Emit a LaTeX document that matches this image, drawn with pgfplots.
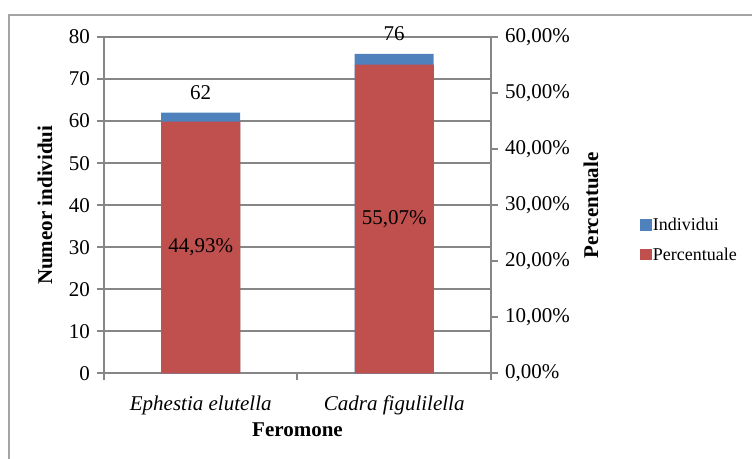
\documentclass[border=0pt]{standalone}
\usepackage{fontspec}
\setmainfont{Liberation Serif}
\usepackage{pgfplots}
\pgfplotsset{compat=1.18}
\definecolor{barblue}{HTML}{4F81BD}
\definecolor{barred}{HTML}{C0504D}
\definecolor{linegray}{HTML}{868686}
\begin{document}
\begin{tikzpicture}
\path[use as bounding box] (0,0) rectangle (376pt,229.5pt);
% chart area frame
\draw[linegray!75, line width=0.8pt] (4.5pt,-1pt) -- (4.5pt,222pt) -- (377pt,222pt);

\pgfplotsset{
  common/.style={
    at={(52pt,42.75pt)}, anchor=south west,
    scale only axis, width=193.5pt, height=168.25pt,
    xmin=-0.5, xmax=1.5, ymin=0,
    font=\fontsize{10.5}{12.6}\selectfont,
    /pgf/number format/assume math mode=true,
    axis line style={linegray, line width=1pt},
    tick style={linegray, line width=1pt},
    major tick length=3.5pt,
    minor tick length=3.5pt,
    tick align=outside,
    ybar, bar width=39.5pt,
  },
  sqlegend/.style={legend image code/.code={\fill[##1] (0pt,-2.5pt) rectangle (5.75pt,3.25pt);}},
}

% left axis: number of individuals
\begin{axis}[common,
  ymax=80, ytick={0,10,...,80},
  axis x line*=bottom, axis y line*=left,
  ymajorgrids, grid style={linegray, line width=1pt},
  xtick={0,1},
  xticklabels={\textit{Ephestia elutella}, \textit{Cadra figulilella}},
  minor xtick={-0.5,0.5,1.5},
  major x tick style={draw=none},
  minor x tick style={draw=linegray, line width=1pt},
  xticklabel style={yshift=-4pt},
  xlabel={\textbf{Feromone}},
  ylabel={\textbf{Numeor individui}},
  every axis x label/.style={at={(axis description cs:0.5,-0.168)}, anchor=center},
  every axis y label/.style={at={(axis description cs:-0.1525,0.5)}, rotate=90, anchor=center},
]
\addplot[fill=barblue, draw=none, point meta=explicit symbolic,
  nodes near coords, nodes near coords align={center},
  every node near coord/.append style={yshift=10pt, text=black}]
  coordinates {(0,62) [62] (1,76) [76]};
\end{axis}

% right axis: percentage
\begin{axis}[common,
  ymax=60, ytick={0,10,...,60},
  yticklabels={{0,00\%},{10,00\%},{20,00\%},{30,00\%},{40,00\%},{50,00\%},{60,00\%}},
  axis y line*=right, axis x line=none,
  ylabel={\textbf{Percentuale}},
  every axis y label/.style={at={(axis description cs:1.2584,0.5)}, rotate=90, anchor=center},
  legend style={at={(axis description cs:1.385,0.3945)}, anchor=west,
    draw=none, fill=none, inner sep=0pt, row sep=7pt,
    font=\fontsize{9}{10.8}\selectfont,
    nodes={inner xsep=0.5pt, inner ysep=0pt}},
  legend cell align=left,
]
\addlegendimage{fill=barblue, draw=none, sqlegend}
\addlegendentry{Individui}
\addplot[fill=barred, draw=none, sqlegend, point meta=explicit symbolic,
  nodes near coords,
  visualization depends on={rawy \as \rawy},
  every node near coord/.append style={anchor=center, text=black, yshift=-\rawy*1.40208pt}]
  coordinates {(0,44.93) [44,93\%] (1,55.07) [55,07\%]};
\addlegendentry{Percentuale}
\end{axis}
\end{tikzpicture}
\end{document}
